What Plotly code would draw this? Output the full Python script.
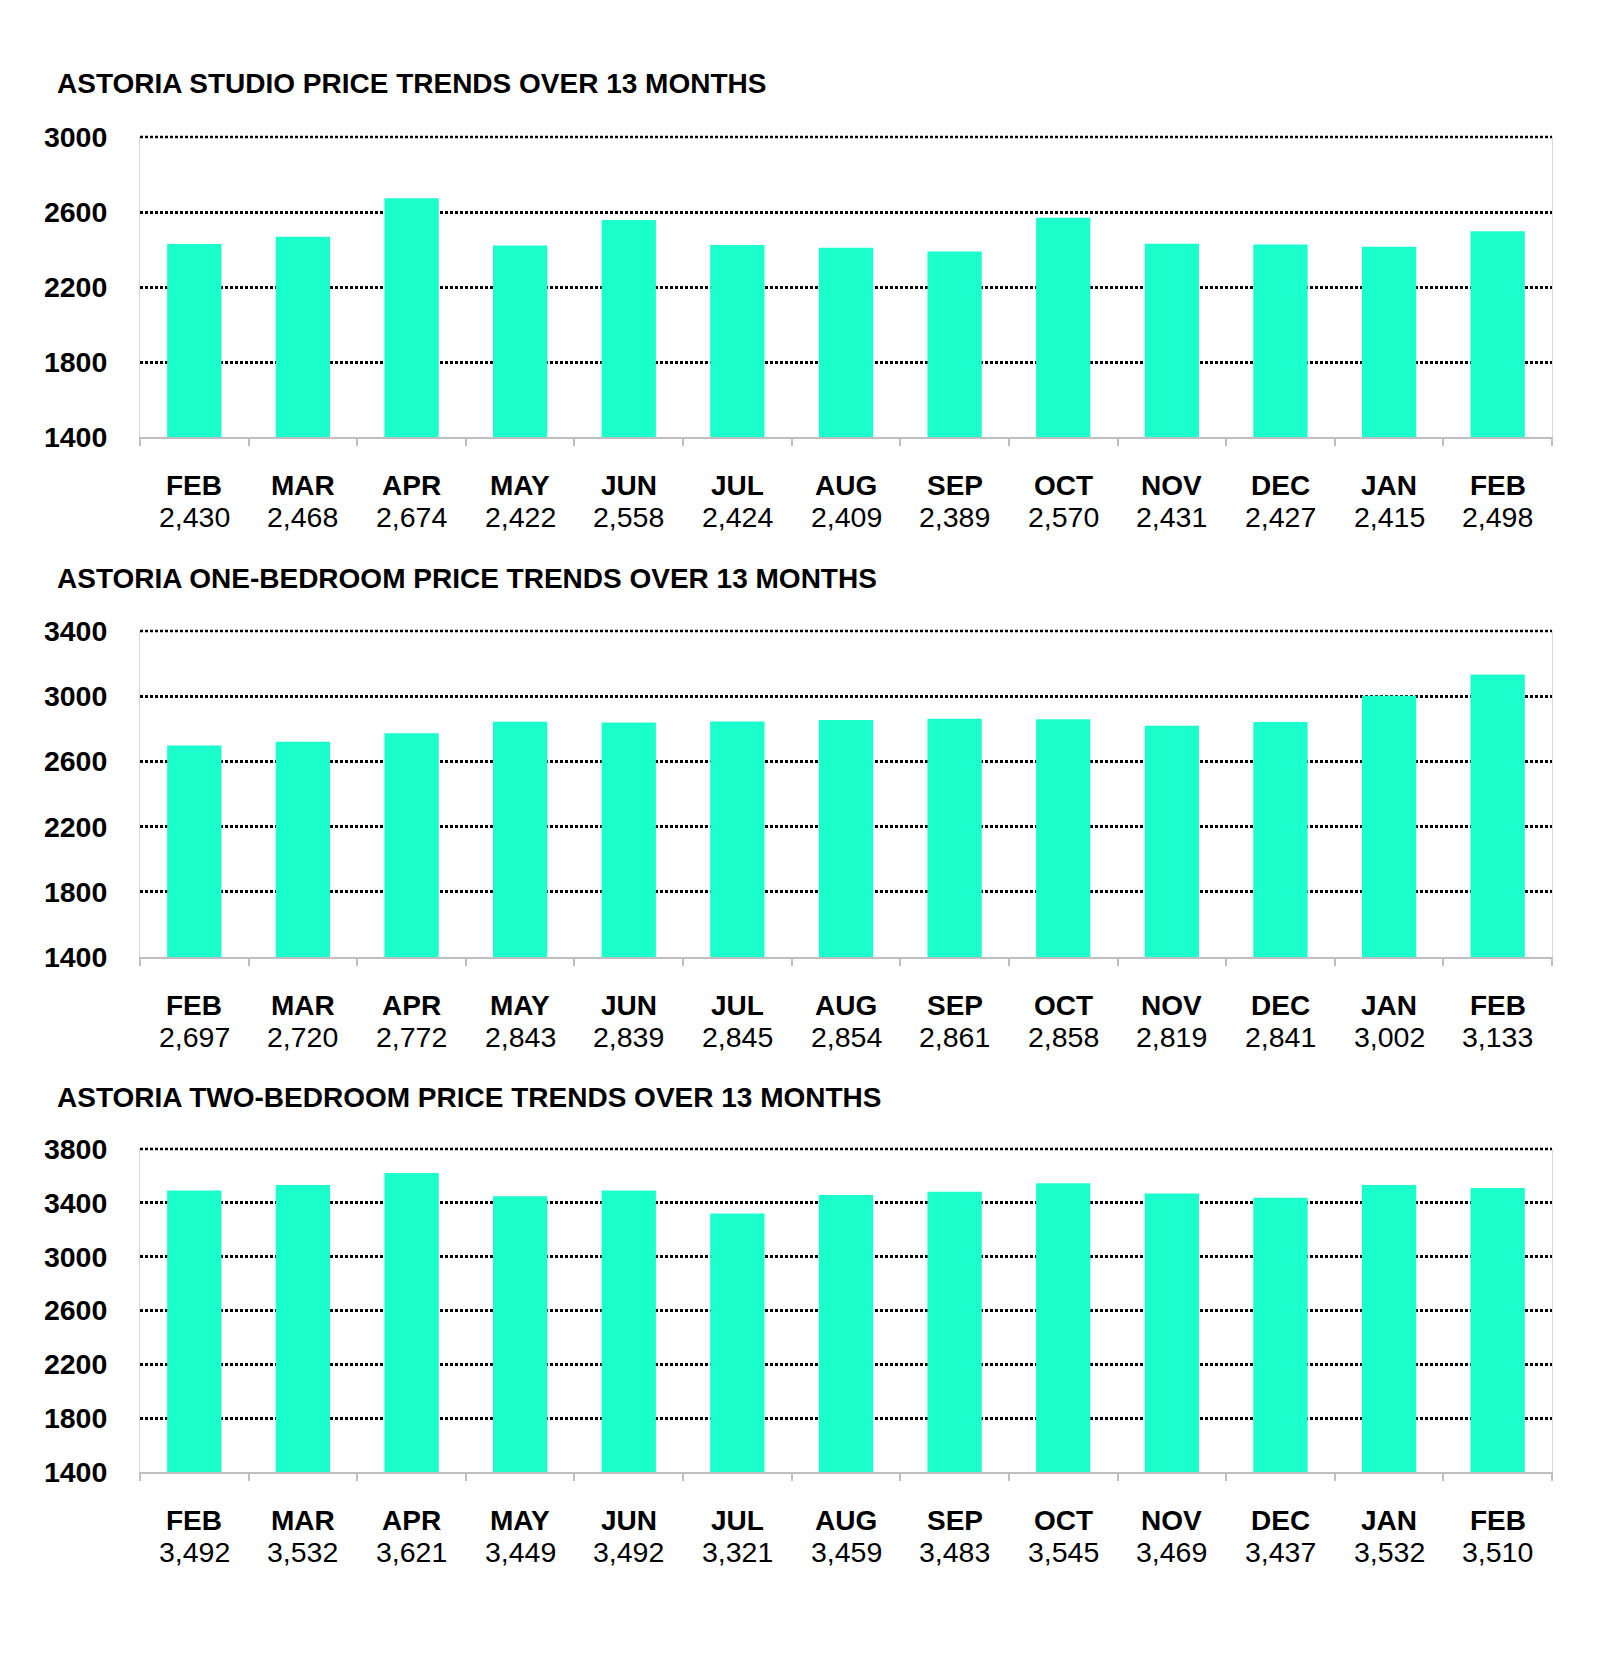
import plotly.graph_objects as go

months = ["FEB", "MAR", "APR", "MAY", "JUN", "JUL", "AUG", "SEP", "OCT", "NOV", "DEC", "JAN", "FEB"]
studio = [2430, 2468, 2674, 2422, 2558, 2424, 2409, 2389, 2570, 2431, 2427, 2415, 2498]
one_bed = [2697, 2720, 2772, 2843, 2839, 2845, 2854, 2861, 2858, 2819, 2841, 3002, 3133]
two_bed = [3492, 3532, 3621, 3449, 3492, 3321, 3459, 3483, 3545, 3469, 3437, 3532, 3510]
titles = [
    "ASTORIA STUDIO PRICE TRENDS OVER 13 MONTHS",
    "ASTORIA ONE-BEDROOM PRICE TRENDS OVER 13 MONTHS",
    "ASTORIA TWO-BEDROOM PRICE TRENDS OVER 13 MONTHS",
]
y_ranges = [(1400, 3000), (1400, 3400), (1400, 3800)]
y_dtick = 400

W, H = 1600, 1655
# pixel layout (top, bottom) of each plot area
plot_px = [(137, 437), (631, 957), (1149, 1472)]
title_px = [83, 578, 1097]
x_left, x_right = 140, 1552

BAR = "#1AFFCC"
FONT = "Liberation Sans"
FS_T = 28
FS_TICK = 28.5
FS_M = 28
FS_V = 28.5
GRID_DASH = "3px,2px"
GRID_W = 2.5

fig = go.Figure()
series = [studio, one_bed, two_bed]
xs = list(range(len(months)))
annotations = []
shapes = []
for i, (vals, (top, bot)) in enumerate(zip(series, plot_px)):
    n = i + 1
    xa = "x" if n == 1 else f"x{n}"
    ya = "y" if n == 1 else f"y{n}"
    fig.add_trace(go.Bar(x=xs, y=vals, marker=dict(color=BAR, line=dict(width=0)),
                         xaxis=xa, yaxis=ya, showlegend=False, hoverinfo="skip"))
    dom = [1 - bot / H, 1 - top / H]
    fig.update_layout(**{
        ("xaxis" if n == 1 else f"xaxis{n}"): dict(
            domain=[x_left / W, x_right / W], anchor=ya,
            range=[-0.5, len(months) - 0.5],
            tickvals=[k - 0.5 for k in range(len(months) + 1)],
            ticktext=[""] * (len(months) + 1),
            showticklabels=False, ticks="outside", ticklen=7, tickwidth=2,
            tickcolor="#bfbfbf", showline=True, linecolor="#bfbfbf", linewidth=2,
            showgrid=False, zeroline=False, fixedrange=True, automargin=False,
        ),
        ("yaxis" if n == 1 else f"yaxis{n}"): dict(
            domain=dom, anchor=xa, range=list(y_ranges[i]), dtick=y_dtick,
            tick0=y_ranges[i][0], showgrid=True, gridcolor="#000000", griddash=GRID_DASH,
            gridwidth=GRID_W, showline=True, linecolor="#d9d9d9", linewidth=1, mirror=True,
            ticks="", ticklabelstandoff=26, zeroline=False, automargin=False,
            tickfont=dict(family=FONT, size=FS_TICK, color="#000", weight="bold"),
            fixedrange=True,
        ),
    })
    # top gridline along the upper edge of the plot area (plotly skips edge grid lines)
    shapes.append(dict(type="line", xref="paper", yref="paper",
                       x0=x_left / W, x1=x_right / W, y0=dom[1], y1=dom[1],
                       line=dict(color="#000000", width=GRID_W, dash=GRID_DASH), layer="below"))
    annotations.append(dict(
        text=titles[i], xref="paper", yref="paper", x=55 / W, y=1 - title_px[i] / H,
        xanchor="left", yanchor="middle", showarrow=False,
        font=dict(family=FONT, size=FS_T, color="#000", weight="bold"),
    ))
    for k, (m, v) in enumerate(zip(months, vals)):
        annotations.append(dict(
            text=m, xref=xa, yref=f"{ya} domain", x=xs[k], y=0, yanchor="middle",
            yshift=-48, showarrow=False,
            font=dict(family=FONT, size=FS_M, color="#000", weight="bold"),
        ))
        annotations.append(dict(
            text=f"{v:,}", xref=xa, yref=f"{ya} domain", x=xs[k], y=0, yanchor="middle",
            yshift=-80, showarrow=False,
            font=dict(family=FONT, size=FS_V, color="#000"),
        ))

fig.update_layout(
    width=W, height=H, margin=dict(l=0, r=0, t=0, b=0, autoexpand=False),
    paper_bgcolor="white", plot_bgcolor="white",
    bargap=0.5, annotations=annotations, shapes=shapes,
)
fig.write_html("out.html", config={"displayModeBar": False},
               post_script="document.body.style.margin='0';")
